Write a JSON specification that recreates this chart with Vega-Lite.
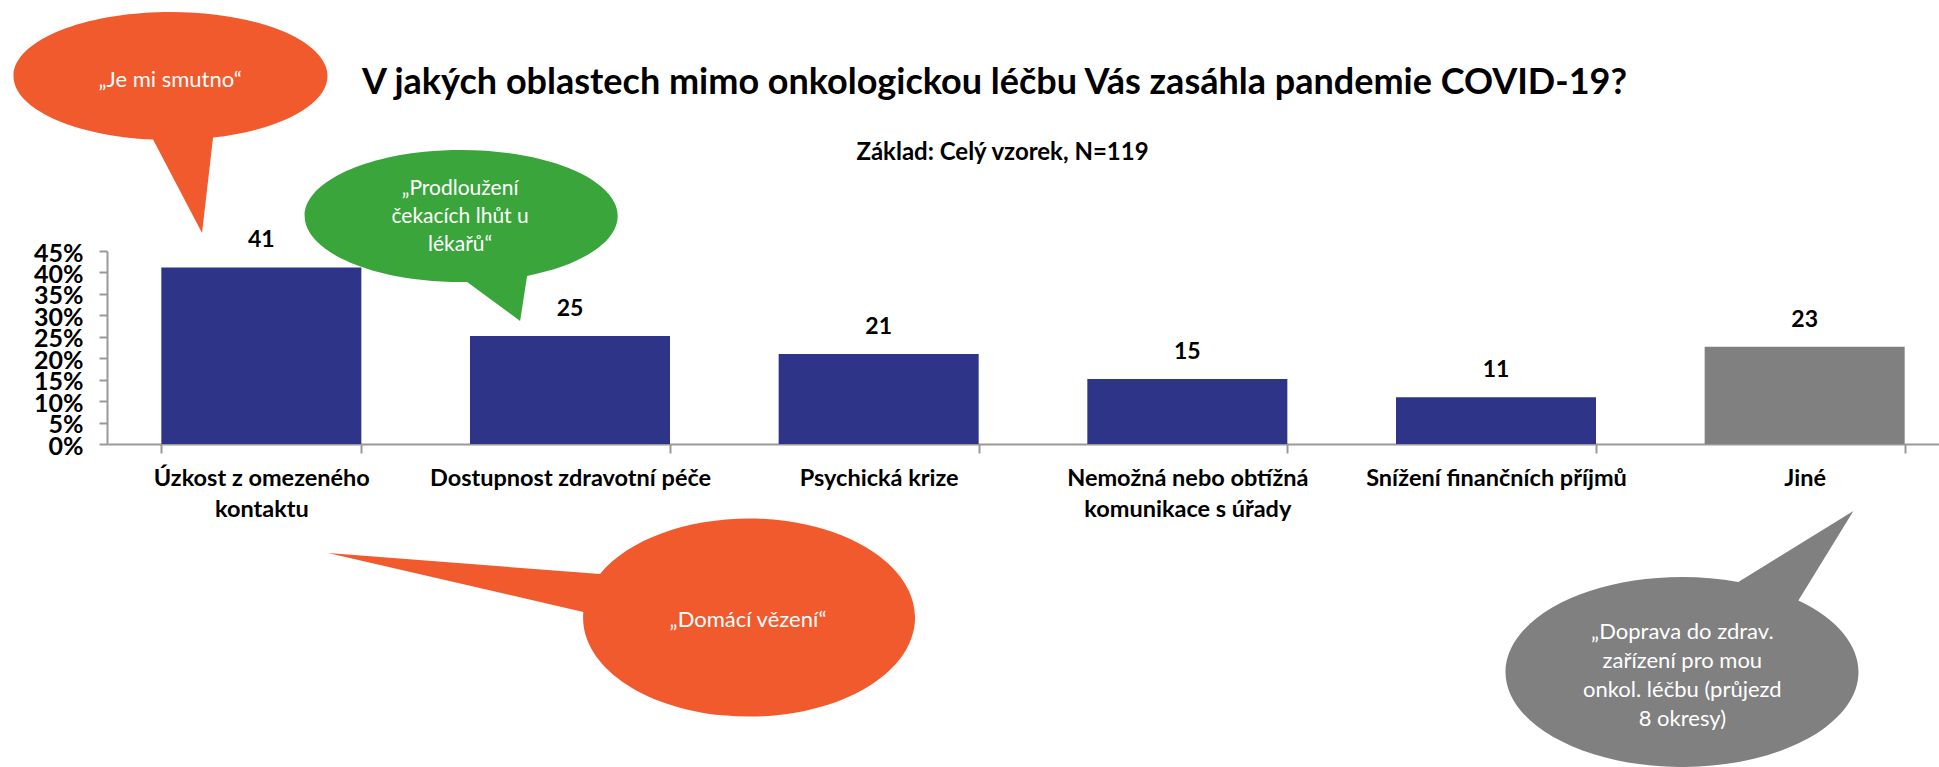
{
  "$schema": "https://vega.github.io/schema/vega-lite/v6.json",
  "width": 1832,
  "height": 193,
  "autosize": {"type": "none"},
  "padding": {"left": 107, "top": 251, "right": 0, "bottom": 323},
  "background": "white",
  "config": {"view": {"stroke": null}, "font": "Lato"},
  "datasets": {
    "answers": [
      {"cat": "Úzkost z omezeného kontaktu", "pct": 41.18},
      {"cat": "Dostupnost zdravotní péče", "pct": 25.21},
      {"cat": "Psychická krize", "pct": 21.01},
      {"cat": "Nemožná nebo obtížná komunikace s úřady", "pct": 15.13},
      {"cat": "Snížení finančních příjmů", "pct": 10.92},
      {"cat": "Jiné", "pct": 22.69}
    ],
    "quotes": [
      {"id": "q1", "cat": "Úzkost z omezeného kontaktu", "quote": "„Je mi smutno“"},
      {"id": "q2", "cat": "Dostupnost zdravotní péče", "quote": "„Prodloužení\nčekacích lhůt u\nlékařů“"},
      {"id": "q3", "cat": "Úzkost z omezeného kontaktu", "quote": "„Domácí vězení“"},
      {"id": "q4", "cat": "Jiné", "quote": "„Doprava do zdrav.\nzařízení pro mou\nonkol. léčbu (průjezd\n8 okresy)"}
    ]
  },
  "resolve": {"axis": {"x": "independent", "y": "independent"}},
  "layer": [
    {
      "data": {"name": "answers"},
      "mark": {"type": "bar"},
      "encoding": {
        "x": {
          "field": "cat", "type": "nominal",
          "scale": {
            "domain": ["Úzkost z omezeného kontaktu", "Dostupnost zdravotní péče", "Psychická krize", "Nemožná nebo obtížná komunikace s úřady", "Snížení finančních příjmů", "Jiné"],
            "range": [0, 1852], "paddingInner": 0.352, "paddingOuter": 0.176
          },
          "axis": {
            "title": null, "labelAngle": 0, "labelFontSize": 23.5, "labelFontWeight": "bold", "labelColor": "black",
            "labelPadding": 13, "labelLineHeight": 31, "labelLimit": 0, "labelOverlap": false,
            "tickBand": "extent", "tickSize": 9, "tickWidth": 2, "tickColor": "#999999",
            "domainColor": "#999999", "domainWidth": 2,
            "labelExpr": "datum.value == 'Úzkost z omezeného kontaktu' ? ['Úzkost z omezeného', 'kontaktu'] : datum.value == 'Nemožná nebo obtížná komunikace s úřady' ? ['Nemožná nebo obtížná', 'komunikace s úřady'] : datum.value"
          }
        },
        "y": {
          "field": "pct", "type": "quantitative",
          "scale": {"domain": [0, 45], "nice": false},
          "axis": {
            "values": [0, 5, 10, 15, 20, 25, 30, 35, 40, 45],
            "labelExpr": "datum.value + '%'", "grid": false,
            "labelFontSize": 25, "labelFontWeight": "bold", "labelColor": "black",
            "labelFlush": false, "labelOverlap": false, "labelOffset": 2,
            "tickSize": 8, "tickWidth": 2, "tickColor": "#999999", "labelPadding": 16,
            "domainColor": "#999999", "domainWidth": 2,
            "title": "Základ: Celý vzorek, N=119", "titleAngle": 0, "titleX": 895, "titleY": -92,
            "titleAlign": "center", "titleBaseline": "alphabetic", "titleFontSize": 24,
            "titleFontWeight": "bold", "titleColor": "black", "titleLimit": 3000
          }
        },
        "color": {"condition": {"test": "datum.cat == 'Jiné'", "value": "#808080"}, "value": "#2E3588"}
      }
    },
    {
      "data": {"name": "answers"},
      "mark": {"type": "text", "baseline": "alphabetic", "dy": -20, "fontSize": 23, "fontWeight": "bold", "color": "black"},
      "encoding": {
        "x": {
          "field": "cat", "type": "nominal",
          "axis": {
            "orient": "top", "labels": false, "ticks": false, "domain": false,
            "title": "V jakých oblastech mimo onkologickou léčbu Vás zasáhla pandemie COVID-19?",
            "titleX": 887, "titleY": -158, "titleAlign": "center", "titleBaseline": "alphabetic",
            "titleFontSize": 36, "titleFontWeight": "bold", "titleColor": "black", "titleLimit": 3000
          }
        },
        "y": {"field": "pct", "type": "quantitative", "axis": null},
        "text": {"field": "pct", "type": "quantitative", "format": ".0f"}
      }
    },
    {
      "data": {"name": "quotes"},
      "transform": [
        {"filter": "datum.id == 'q1'"},
        {"lookup": "cat", "from": {"data": {"name": "answers"}, "key": "cat", "fields": ["pct"]}}
      ],
      "layer": [
        {
          "mark": {"type": "point", "shape": "M -48.3 -129.8 L -59.3 -34.4 L -108.3 -127.8 A 157 64 0 1 1 -48.3 -129.8 Z", "size": 4, "filled": true, "color": "#F05A2D", "opacity": 1, "strokeWidth": 0},
          "encoding": {"x": {"field": "cat", "type": "nominal", "axis": null}, "y": {"field": "pct", "type": "quantitative", "axis": null}}
        },
        {
          "mark": {"type": "text", "dx": -91.3, "dy": -187.4, "baseline": "middle", "align": "center", "fontSize": 22, "color": "white"},
          "encoding": {"x": {"field": "cat", "type": "nominal", "axis": null}, "y": {"field": "pct", "type": "quantitative", "axis": null}, "text": {"field": "quote"}}
        }
      ]
    },
    {
      "data": {"name": "quotes"},
      "transform": [
        {"filter": "datum.id == 'q2'"},
        {"lookup": "cat", "from": {"data": {"name": "answers"}, "key": "cat", "fields": ["pct"]}}
      ],
      "layer": [
        {
          "mark": {"type": "point", "shape": "M -42.9 -60 L -49.9 -14.9 L -102.9 -53.9 A 156.5 66 0 1 1 -42.9 -60 Z", "size": 4, "filled": true, "color": "#3AA53B", "opacity": 1, "strokeWidth": 0},
          "encoding": {"x": {"field": "cat", "type": "nominal", "axis": null}, "y": {"field": "pct", "type": "quantitative", "axis": null}}
        },
        {
          "mark": {"type": "text", "dx": -109.9, "dy": -146.5, "baseline": "middle", "align": "center", "fontSize": 21, "lineHeight": 28, "lineBreak": "\n", "color": "white"},
          "encoding": {"x": {"field": "cat", "type": "nominal", "axis": null}, "y": {"field": "pct", "type": "quantitative", "axis": null}, "text": {"field": "quote"}}
        }
      ]
    },
    {
      "data": {"name": "quotes"},
      "transform": [
        {"filter": "datum.id == 'q3'"},
        {"lookup": "cat", "from": {"data": {"name": "answers"}, "key": "cat", "fields": ["pct"]}}
      ],
      "layer": [
        {
          "mark": {"type": "point", "shape": "M 66.7 285.6 L 338.7 306.6 A 166 99 0 1 1 322 344.6 Z", "size": 4, "filled": true, "color": "#F05A2D", "opacity": 1, "strokeWidth": 0},
          "encoding": {"x": {"field": "cat", "type": "nominal", "axis": null}, "y": {"field": "pct", "type": "quantitative", "axis": null}}
        },
        {
          "mark": {"type": "text", "dx": 486.7, "dy": 352.6, "baseline": "middle", "align": "center", "fontSize": 22, "color": "white"},
          "encoding": {"x": {"field": "cat", "type": "nominal", "axis": null}, "y": {"field": "pct", "type": "quantitative", "axis": null}, "text": {"field": "quote"}}
        }
      ]
    },
    {
      "data": {"name": "quotes"},
      "transform": [
        {"filter": "datum.id == 'q4'"},
        {"lookup": "cat", "from": {"data": {"name": "answers"}, "key": "cat", "fields": ["pct"]}}
      ],
      "layer": [
        {
          "mark": {"type": "point", "shape": "M -66.3 235.3 L 48.7 164.3 L -6.3 253.9 A 176.5 95 0 1 1 -66.3 235.3 Z", "size": 4, "filled": true, "color": "#808080", "opacity": 1, "strokeWidth": 0},
          "encoding": {"x": {"field": "cat", "type": "nominal", "axis": null}, "y": {"field": "pct", "type": "quantitative", "axis": null}}
        },
        {
          "mark": {"type": "text", "dx": -122.3, "dy": 285.3, "baseline": "middle", "align": "center", "fontSize": 22, "lineHeight": 29, "lineBreak": "\n", "color": "white"},
          "encoding": {"x": {"field": "cat", "type": "nominal", "axis": null}, "y": {"field": "pct", "type": "quantitative", "axis": null}, "text": {"field": "quote"}}
        }
      ]
    }
  ]
}
